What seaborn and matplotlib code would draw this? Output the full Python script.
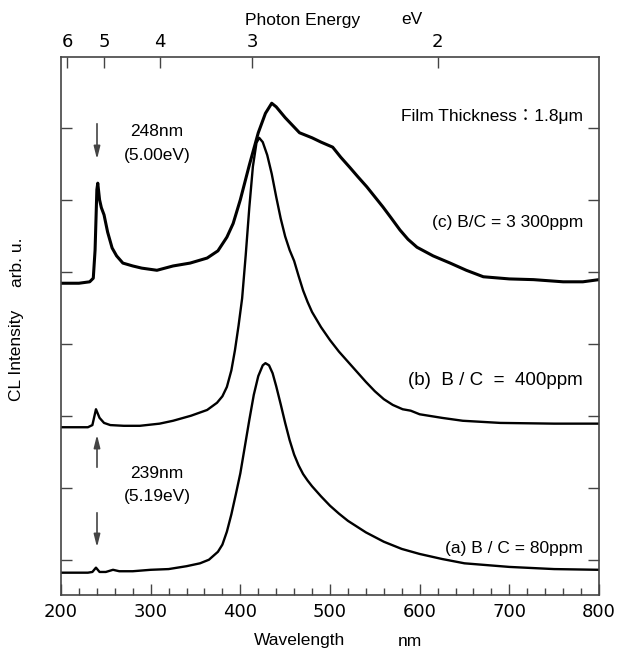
import numpy as np
import pandas as pd
import seaborn as sns
import matplotlib.pyplot as plt

# CL spectra, intensity in arbitrary units (1 unit = one y tick step)
wl_a = [200, 220, 230, 235, 239, 243, 250, 258, 265, 280, 300, 320, 340, 355, 365, 375,
        380, 385, 390, 395, 400, 405, 410, 415, 420, 425, 428, 432, 436, 440, 445, 450,
        455, 460, 465, 470, 475, 480, 490, 500, 510, 520, 530, 540, 560, 580, 600, 625,
        650, 700, 750, 800]
int_a = [0.31, 0.31, 0.31, 0.32, 0.38, 0.32, 0.32, 0.35, 0.33, 0.33, 0.35, 0.36, 0.40,
         0.44, 0.49, 0.60, 0.70, 0.88, 1.12, 1.40, 1.69, 2.06, 2.43, 2.78, 3.04, 3.19,
         3.22, 3.19, 3.08, 2.90, 2.65, 2.39, 2.15, 1.95, 1.80, 1.68, 1.59, 1.51, 1.37,
         1.24, 1.13, 1.03, 0.95, 0.87, 0.74, 0.64, 0.57, 0.50, 0.44, 0.39, 0.36, 0.35]

wl_b = [200, 230, 235, 239, 243, 248, 255, 270, 288, 310, 325, 345, 363, 374, 380, 385,
        390, 394, 398, 402, 406, 410, 414, 418, 421, 425, 430, 435, 440, 445, 450, 455,
        460, 465, 470, 475, 480, 490, 500, 510, 520, 530, 540, 550, 560, 570, 581, 590,
        600, 625, 648, 690, 750, 800]
int_b = [2.33, 2.33, 2.36, 2.58, 2.46, 2.39, 2.36, 2.35, 2.35, 2.38, 2.42, 2.49, 2.57,
         2.67, 2.76, 2.89, 3.12, 3.40, 3.74, 4.12, 4.72, 5.38, 5.95, 6.28, 6.35, 6.29,
         6.11, 5.85, 5.53, 5.23, 4.98, 4.79, 4.64, 4.43, 4.23, 4.07, 3.93, 3.72, 3.54,
         3.38, 3.24, 3.10, 2.96, 2.83, 2.72, 2.64, 2.58, 2.56, 2.51, 2.46, 2.42, 2.39,
         2.38, 2.38]

wl_c = [200, 220, 232, 236, 238, 240, 241, 243, 245, 248, 252, 257, 262, 269, 280, 290,
        307, 325, 344, 363, 375, 385, 392, 400, 410, 420, 428, 435, 440, 450, 466, 480,
        490, 503, 512, 522, 531, 541, 550, 559, 568, 578, 587, 597, 615, 634, 652, 671,
        700, 727, 760, 782, 800]
int_c = [4.33, 4.33, 4.35, 4.40, 4.79, 5.63, 5.72, 5.49, 5.38, 5.28, 5.04, 4.82, 4.71,
         4.61, 4.57, 4.54, 4.51, 4.57, 4.61, 4.68, 4.78, 4.97, 5.16, 5.49, 5.97, 6.42,
         6.69, 6.83, 6.78, 6.63, 6.42, 6.35, 6.29, 6.22, 6.08, 5.94, 5.81, 5.67, 5.53,
         5.39, 5.24, 5.07, 4.94, 4.83, 4.71, 4.61, 4.51, 4.42, 4.39, 4.38, 4.35, 4.35,
         4.38]

energy_ticks = [6, 5, 4, 3, 2]
sample_labels = ["(a) B / C = 80ppm", "(b)  B / C  =  400ppm", "(c) B/C = 3 300ppm"]

df = pd.concat([
    pd.DataFrame({"wl": wl_a, "I": int_a, "s": "a"}),
    pd.DataFrame({"wl": wl_b, "I": int_b, "s": "b"}),
    pd.DataFrame({"wl": wl_c, "I": int_c, "s": "c"}),
])

sns.set_style("ticks")
plt.rcParams["font.family"] = ["Liberation Sans", "Noto Sans CJK JP"]
plt.rcParams["font.size"] = 12.5
plt.rcParams["text.color"] = "black"

W, H = 619, 658
fig = plt.figure(figsize=(W / 100, H / 100), dpi=100)
ax = fig.add_axes([61 / W, 63 / H, 538 / W, 538 / H])

sns.lineplot(data=df[df.s != "c"], x="wl", y="I", hue="s", units="s", estimator=None,
             palette=["black", "black"], linewidth=1.7, legend=False, ax=ax)
sns.lineplot(data=df[df.s == "c"], x="wl", y="I", color="black", linewidth=2.2,
             estimator=None, ax=ax)

ax.set_xlim(200, 800)
ax.set_ylim(0, 538 / 72)
ax.set_xticks(np.arange(200, 801, 100))
ax.set_xticks(np.arange(200, 801, 20), minor=True)
ax.set_yticks(0.49 + np.arange(7))
ax.set_yticklabels([])
ax.set_xlabel("")
ax.set_ylabel("")
ax.tick_params(axis="both", which="both", direction="in", colors="#444444",
               labelcolor="black", width=1)
ax.tick_params(axis="x", which="major", length=8, pad=6, labelsize=13)
ax.tick_params(axis="x", which="minor", length=5)
ax.tick_params(axis="y", length=8, right=True)
for lab in ax.get_xticklabels():
    lab.set_family("DejaVu Sans")
for sp in ax.spines.values():
    sp.set_color("#444444")
    sp.set_linewidth(1.2)

top = ax.twiny()
top.set_xlim(200, 800)
top.set_xticks([1240 / e for e in energy_ticks])
top.set_xticklabels([str(e) for e in energy_ticks], family="DejaVu Sans", size=13)
top.tick_params(axis="x", direction="in", length=8, pad=4, colors="#444444",
                labelcolor="black", width=1)
for sp in top.spines.values():
    sp.set_visible(False)

def px(x, y):
    return x / W, 1 - y / H

fig.text(*px(303, 20), "Photon Energy", ha="center", va="center")
fig.text(*px(412, 20), "eV", ha="center", va="center")
fig.text(*px(300, 641), "Wavelength", ha="center", va="center")
fig.text(*px(410, 641), "nm", ha="center", va="center")
fig.text(*px(17, 355), "CL Intensity", ha="center", va="center", rotation=90)
fig.text(*px(17, 262), "arb. u.", ha="center", va="center", rotation=90)

fig.text(*px(583, 116), "Film Thickness\uff1a1.8\u03bcm", ha="right", va="center")
for lab, yy, fs in zip(sample_labels[::-1], [223, 381, 549], [12.5, 13.5, 12.5]):
    fig.text(*px(583, yy), lab, ha="right", va="center", fontsize=fs)

fig.text(*px(157, 132), "248nm", ha="center", va="center")
fig.text(*px(157, 155), "(5.00eV)", ha="center", va="center")
fig.text(*px(157, 474), "239nm", ha="center", va="center")
fig.text(*px(157, 497), "(5.19eV)", ha="center", va="center")

arrow = dict(arrowstyle="-|>,head_length=0.6,head_width=0.15", color="#444444", lw=1.2)
fig.add_artist(plt.Annotation("", xy=px(97, 162), xytext=px(97, 121),
                              xycoords="figure fraction", arrowprops=arrow))
fig.add_artist(plt.Annotation("", xy=px(97, 432), xytext=px(97, 470),
                              xycoords="figure fraction", arrowprops=arrow))
fig.add_artist(plt.Annotation("", xy=px(97, 550), xytext=px(97, 510),
                              xycoords="figure fraction", arrowprops=arrow))

fig.savefig("out.png", dpi=100)
